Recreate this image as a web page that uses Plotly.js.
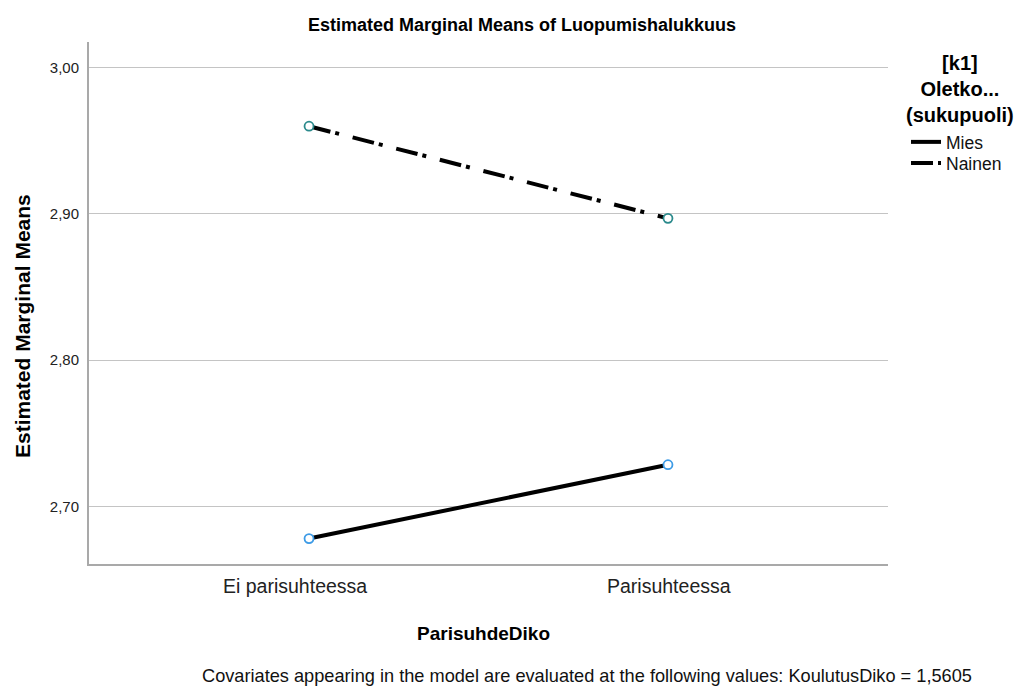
<!DOCTYPE html>
<html>
<head>
<meta charset="utf-8">
<script src="https://cdn.plot.ly/plotly-3.0.1.min.js"></script>
<style>html,body{margin:0;padding:0;background:#fff;}#chart{width:1023px;height:691px;}</style>
</head>
<body>
<div id="chart"></div>
<script>
var categories = ["Ei parisuhteessa", "Parisuhteessa"];
var seriesNames = ["Mies", "Nainen"];
var miesValues = [2.678, 2.7285];
var nainenValues = [2.960, 2.897];
var yTickValues = [2.70, 2.80, 2.90, 3.00];
var yTickLabels = ["2,70", "2,80", "2,90", "3,00"];
var legendTitleLines = ["[k1]", "Oletko...", "(sukupuoli)"];
var chartTitle = "Estimated Marginal Means of Luopumishalukkuus";
var xTitle = "ParisuhdeDiko";
var yTitle = "Estimated Marginal Means";
var footnote = "Covariates appearing in the model are evaluated at the following values: KoulutusDiko = 1,5605";

var FONT = "Liberation Sans, Arial, sans-serif";
var L = 89, R = 888, T = 42, B = 564;
function px(x){ return (x - L) / (R - L); }
function py(y){ return (B - y) / (B - T); }

var traces = [
  {x: categories, y: miesValues, name: seriesNames[0], type: "scatter", mode: "lines",
   line: {color: "#000", width: 4, dash: "solid"}, showlegend: true, legend: "legend"},
  {x: categories, y: nainenValues, name: seriesNames[1], type: "scatter", mode: "lines",
   line: {color: "#000", width: 4, dash: "22px,5px,4px,14px"}, showlegend: true, legend: "legend2"},
  {x: categories, y: miesValues, type: "scatter", mode: "markers", showlegend: false, hoverinfo: "skip",
   marker: {symbol: "circle", size: 9, color: "#fff", line: {color: "#3d9be6", width: 1.8}}},
  {x: categories, y: nainenValues, type: "scatter", mode: "markers", showlegend: false, hoverinfo: "skip",
   marker: {symbol: "circle", size: 9, color: "#fff", line: {color: "#2b8a8c", width: 1.8}}}
];

var annotations = [
  {text: "<b>" + chartTitle + "</b>", xref: "paper", yref: "paper", x: px(522), y: py(25),
   xanchor: "center", yanchor: "middle", showarrow: false, font: {family: FONT, size: 18, color: "#000"}},
  {text: "<b>" + yTitle + "</b>", xref: "paper", yref: "paper", x: px(23), y: py(326), textangle: -90,
   xanchor: "center", yanchor: "middle", showarrow: false, font: {family: FONT, size: 21, color: "#000"}},
  {text: "<b>" + xTitle + "</b>", xref: "paper", yref: "paper", x: px(483), y: py(633),
   xanchor: "center", yanchor: "middle", showarrow: false, font: {family: FONT, size: 19, color: "#000"}},
  {text: footnote, xref: "paper", yref: "paper", x: px(587), y: py(676),
   xanchor: "center", yanchor: "middle", showarrow: false, font: {family: FONT, size: 18.2, color: "#111"}},
  {text: categories[0], xref: "paper", yref: "paper", x: px(295), y: py(586),
   xanchor: "center", yanchor: "middle", showarrow: false, font: {family: FONT, size: 19.5, color: "#222"}},
  {text: categories[1], xref: "paper", yref: "paper", x: px(669), y: py(586),
   xanchor: "center", yanchor: "middle", showarrow: false, font: {family: FONT, size: 19.5, color: "#222"}},
  {text: legendTitleLines.map(function(t){ return "<b>" + t + "</b>"; }).join("<br>"),
   xref: "paper", yref: "paper", x: px(959.5), y: py(89), align: "center",
   xanchor: "center", yanchor: "middle", showarrow: false, font: {family: FONT, size: 20, color: "#000"}}
];

var legendBase = {xanchor: "left", yanchor: "top", bgcolor: "rgba(0,0,0,0)", borderwidth: 0,
  font: {family: FONT, size: 17.5, color: "#111"}, tracegroupgap: 0, itemwidth: 30};

var layout = {
  width: 1023, height: 691,
  margin: {l: L, r: 1023 - R, t: T, b: 691 - B, pad: 0},
  paper_bgcolor: "#fff", plot_bgcolor: "#fff",
  separators: ",.",
  showlegend: true,
  legend: Object.assign({}, legendBase, {x: px(906), y: py(124)}),
  legend2: Object.assign({}, legendBase, {x: px(906), y: py(145)}),
  xaxis: {type: "category", range: [-0.613, 1.613], showgrid: false, zeroline: false,
    showline: true, linecolor: "#a9a9a9", linewidth: 2, ticks: "", showticklabels: false, fixedrange: true},
  yaxis: {range: [2.6606, 3.0176], tickvals: yTickValues, ticktext: yTickLabels, showgrid: true,
    gridcolor: "#c4c4c4", gridwidth: 1, zeroline: false, showline: true, linecolor: "#a9a9a9", linewidth: 2,
    ticks: "", ticklabelstandoff: 5, tickfont: {family: FONT, size: 15, color: "#222"}, fixedrange: true},
  annotations: annotations
};

Plotly.newPlot("chart", traces, layout, {displayModeBar: false, staticPlot: true});
</script>
</body>
</html>
